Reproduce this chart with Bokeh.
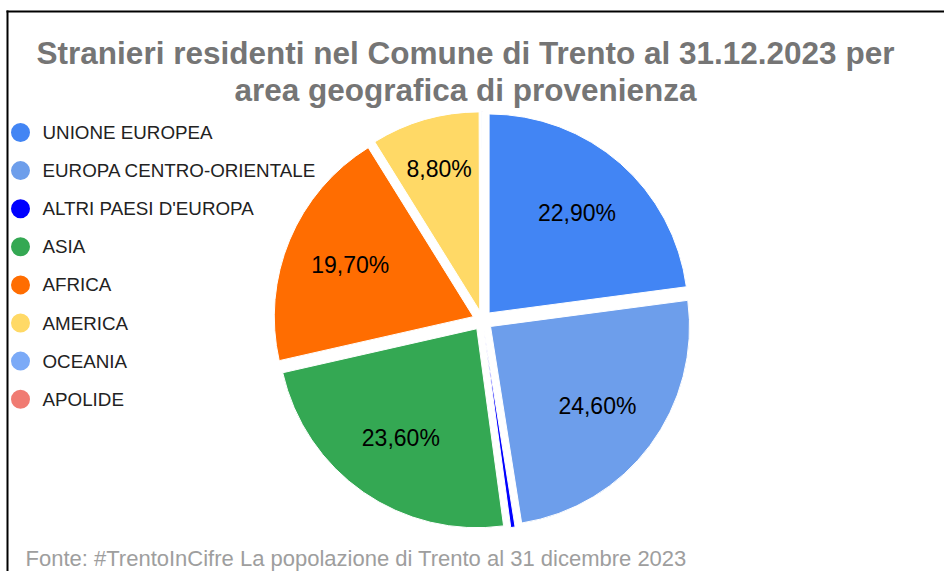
import math
from bokeh.plotting import figure
from bokeh.models import Range1d, ColumnDataSource
from bokeh.core.properties import value
from bokeh.embed import file_html
from bokeh.resources import INLINE

# ---- data ----
categories = ["UNIONE EUROPEA", "EUROPA CENTRO-ORIENTALE", "ALTRI PAESI D'EUROPA",
              "ASIA", "AFRICA", "AMERICA", "OCEANIA", "APOLIDE"]
shares = [22.90, 24.60, 0.35, 23.60, 19.70, 8.80, 0.03, 0.02]
title_lines = ["Stranieri residenti nel Comune di Trento al 31.12.2023 per",
               "area geografica di provenienza"]
source_note = "Fonte: #TrentoInCifre La popolazione di Trento al 31 dicembre 2023"

# ---- style ----
colors = ["#4285F4", "#6D9EEB", "#0000FF", "#34A853", "#FF6D01", "#FFD966", "#7BAAF7", "#F07B72"]
label_frac = [0.67, 0.67, 0.67, 0.67, 0.67, 0.74, 0.67, 0.67]
W, H = 944, 571
FONT = "Liberation Sans"

def sx(x):  # screen x -> data x
    return x

def sy(y):  # screen y -> data y
    return H - y

CX, CY, R, OFF = sx(482), sy(320), 199, 10

p = figure(width=W, height=H, x_range=Range1d(0, W), y_range=Range1d(0, H),
           x_axis_type=None, y_axis_type=None, toolbar_location=None,
           output_backend="svg", min_border=0)
p.outline_line_color = None
p.grid.visible = False
p.background_fill_color = "white"
p.border_fill_color = "white"

total = sum(shares)
cum = 0.0
wx, wy, st, en = [], [], [], []
lx, ly, lt = [], [], []
for i, v in enumerate(shares):
    a0 = cum / total * 2 * math.pi
    cum += v
    a1 = cum / total * 2 * math.pi
    mid = (a0 + a1) / 2
    ox = CX + OFF * math.sin(mid)
    oy = CY + OFF * math.cos(mid)
    wx.append(ox); wy.append(oy)
    st.append(math.pi / 2 - a1); en.append(math.pi / 2 - a0)
    if v / total * 100 >= 1:
        rr = R * label_frac[i]
        lx.append(ox + rr * math.sin(mid))
        ly.append(oy + rr * math.cos(mid))
        lt.append(("%.2f%%" % (v / total * 100)).replace(".", ","))

src = ColumnDataSource(dict(x=wx, y=wy, s=st, e=en, c=colors))
p.wedge(x="x", y="y", radius=R, start_angle="s", end_angle="e", direction="anticlock",
        fill_color="c", line_color="white", line_width=1, source=src)

p.text(x=lx, y=ly, text=lt, text_align="center", text_baseline="middle",
       text_font=value(FONT), text_font_size=value("23px"), text_color="#000000")

# legend
leg_y = [sy(132 + 38.1 * i) for i in range(len(categories))]
p.scatter(x=[sx(20)] * len(categories), y=leg_y, size=19, marker="circle",
          fill_color=colors, line_color=None)
p.text(x=[sx(42)] * len(categories), y=leg_y, text=categories, text_align="left",
       text_baseline="middle", text_font=value(FONT), text_font_size=value("18.8px"),
       text_color="#222222")

# title
p.text(x=[sx(465), sx(465)], y=[sy(52), sy(89)], text=title_lines, text_align="center",
       text_baseline="alphabetic", text_font=value(FONT), text_font_size=value("31.5px"),
       text_font_style="bold", text_color="#757575")

# source note
p.text(x=[sx(25)], y=[sy(558)], text=[source_note], text_align="left",
       text_baseline="alphabetic", text_font=value(FONT), text_font_size=value("22px"),
       text_color="#9E9E9E")

# frame lines
p.line(x=[sx(6), W], y=[sy(11), sy(11)], line_color="black", line_width=2)
p.line(x=[sx(7), sx(7)], y=[sy(10), 0], line_color="black", line_width=2)

open("out.html", "w").write(file_html(p, INLINE))
